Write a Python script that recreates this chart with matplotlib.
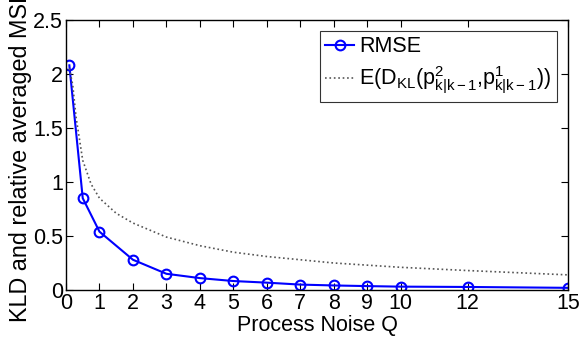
import matplotlib
matplotlib.use('Agg')
from matplotlib import pyplot as plt

plt.rcParams['font.family'] = ['Liberation Sans', 'DejaVu Sans']
plt.rcParams['mathtext.fontset'] = 'custom'
plt.rcParams['mathtext.rm'] = 'Liberation Sans'
plt.rcParams['mathtext.it'] = 'Liberation Sans'

# Datos
q_rmse = [0.1, 0.5, 1, 2, 3, 4, 5, 6, 7, 8, 9, 10, 12, 15]
rmse = [2.08, 0.85, 0.54, 0.28, 0.15, 0.11, 0.083, 0.068, 0.05, 0.042,
        0.036, 0.031, 0.028, 0.02]

q_kld = [0.1, 0.2, 0.3, 0.5, 0.75, 1, 1.5, 2, 3, 4, 5, 6, 7, 8, 9, 10, 12, 15]
kld = [2.05, 1.9, 1.6, 1.2, 0.98, 0.85, 0.71, 0.62, 0.49, 0.41, 0.35,
       0.31, 0.28, 0.25, 0.23, 0.21, 0.18, 0.14]

xticks = [0, 1, 2, 3, 4, 5, 6, 7, 8, 9, 10, 12, 15]
yticks = [0, 0.5, 1, 1.5, 2, 2.5]

fig = plt.figure(figsize=(5.79, 3.44), dpi=100)
ax = fig.add_axes([0.114, 0.157, 0.867, 0.785])

ax.plot(q_rmse, rmse, '-o', color='#0000ff', lw=1.5, ms=7,
        mfc='none', mew=1.5, label='RMSE')
ax.plot(q_kld, kld, ':', color='#555555', lw=1.2,
        label=r'E(D$_{\mathrm{KL}}$(p$^{2}_{\mathrm{k|k-1}}$,p$^{1}_{\mathrm{k|k-1}}$))')

ax.set_xlim(0, 15)
ax.set_ylim(0, 2.5)
ax.set_xticks(xticks)
ax.set_xticklabels([str(t) for t in xticks])
ax.set_yticks(yticks)
ax.set_yticklabels(['0', '0.5', '1', '1.5', '2', '2.5'])
ax.tick_params(direction='in', top=True, right=True, labelsize=15.5,
               length=5, width=0.8, pad=2)
for s in ax.spines.values():
    s.set_linewidth(1.0)

ax.set_xlabel('Process Noise Q', fontsize=15.5, labelpad=1)
ax.set_ylabel('KLD and relative averaged MSE', fontsize=16.8, labelpad=1)

leg = ax.legend(loc='upper right', fontsize=15.5, frameon=True, fancybox=False,
                edgecolor='black', handlelength=1.35, borderpad=0.25,
                labelspacing=0.35, handletextpad=0.25, borderaxespad=0,
                bbox_to_anchor=(0.978, 0.959))
leg.get_frame().set_linewidth(0.8)

fig.savefig('out.png', dpi=100)
